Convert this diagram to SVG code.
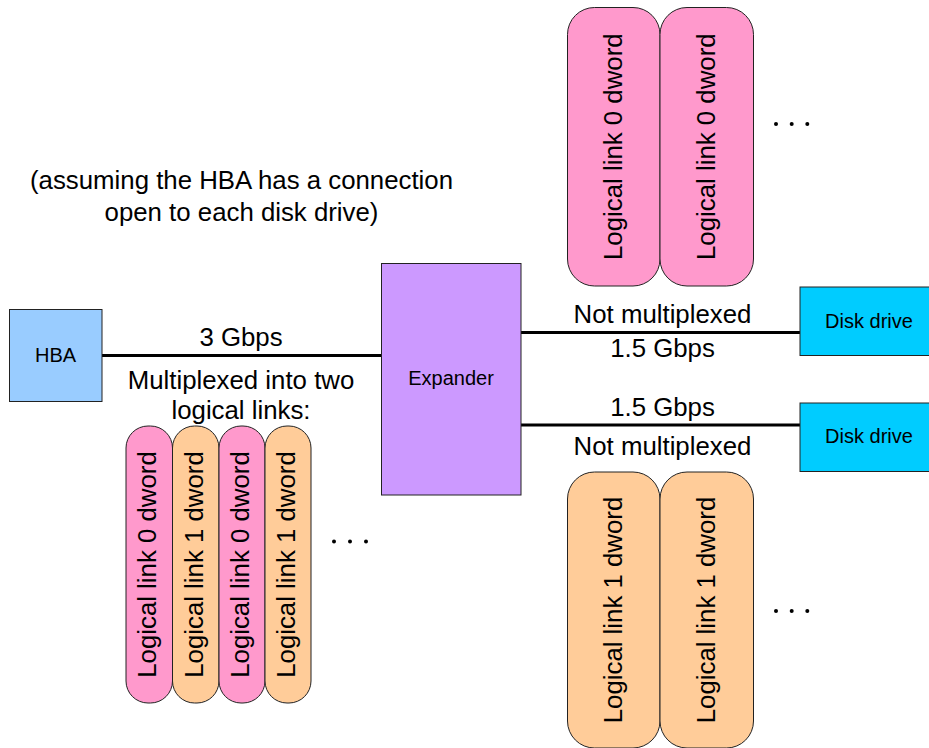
<svg xmlns="http://www.w3.org/2000/svg" width="929" height="748" viewBox="0 0 929 748">
<style>
text{font-family:"Liberation Sans",Arial,sans-serif;fill:#000}
.lg{font-size:25.8px;text-anchor:middle}
.sm{font-size:20px;text-anchor:middle}
.box{stroke:#222;stroke-width:1}
.pink{fill:#FF99CC;stroke:#222;stroke-width:1}
.peach{fill:#FFCC99;stroke:#222;stroke-width:1}
.wire{stroke:#000;stroke-width:3;fill:none}
.dot{fill:#000}
</style>
<rect width="929" height="748" fill="#fff"/>
<g id="note">
<text class="lg" x="241.5" y="189">(assuming the HBA has a connection</text>
<text class="lg" x="241.5" y="221">open to each disk drive)</text>
</g>
<g id="connectors">
<line class="wire" x1="102" y1="355.5" x2="381" y2="355.5"/>
<line class="wire" x1="521" y1="332.5" x2="800" y2="332.5"/>
<line class="wire" x1="521" y1="425" x2="800" y2="425"/>
<text class="lg" x="241" y="346">3 Gbps</text>
<text class="lg" x="241" y="389">Multiplexed into two</text>
<text class="lg" x="241" y="419">logical links:</text>
<text class="lg" x="662.5" y="323">Not multiplexed</text>
<text class="lg" x="662.5" y="357">1.5 Gbps</text>
<text class="lg" x="662.5" y="416">1.5 Gbps</text>
<text class="lg" x="662.5" y="455">Not multiplexed</text>
</g>
<g id="hba">
<rect class="box" x="9.5" y="309.5" width="92.5" height="92" fill="#99CCFF"/>
<text class="sm" x="55.5" y="362">HBA</text>
</g>
<g id="expander">
<rect class="box" x="381.5" y="263.5" width="139.5" height="231.5" fill="#CC99FF"/>
<text class="sm" x="451" y="384.5">Expander</text>
</g>
<g id="disk1">
<rect class="box" x="800" y="287" width="140" height="68.5" fill="#00CCFF"/>
<text class="sm" x="869" y="327.5">Disk drive</text>
</g>
<g id="disk2">
<rect class="box" x="800" y="403" width="140" height="68.5" fill="#00CCFF"/>
<text class="sm" x="869" y="443">Disk drive</text>
</g>
<g id="mux-stream">
<rect class="pink" x="126" y="426" width="46.5" height="277" rx="22" ry="22"/>
<text class="lg" x="149.2" y="571.5" transform="rotate(-90 149.2 564.5)">Logical link 0 dword</text>
<rect class="peach" x="172.5" y="426" width="46.5" height="277" rx="22" ry="22"/>
<text class="lg" x="195.7" y="571.5" transform="rotate(-90 195.7 564.5)">Logical link 1 dword</text>
<rect class="pink" x="219" y="426" width="46" height="277" rx="22" ry="22"/>
<text class="lg" x="242" y="571.5" transform="rotate(-90 242 564.5)">Logical link 0 dword</text>
<rect class="peach" x="265" y="426" width="46" height="277" rx="22" ry="22"/>
<text class="lg" x="288" y="571.5" transform="rotate(-90 288 564.5)">Logical link 1 dword</text>
<circle class="dot" cx="334" cy="541.5" r="2"/>
<circle class="dot" cx="350" cy="541.5" r="2"/>
<circle class="dot" cx="366" cy="541.5" r="2"/>
</g>
<g id="stream-top">
<rect class="pink" x="567.5" y="7.5" width="92.5" height="278.5" rx="27" ry="27"/>
<text class="lg" x="613.7" y="154.7" transform="rotate(-90 613.7 146.7)">Logical link 0 dword</text>
<rect class="pink" x="660" y="7.5" width="93.5" height="278.5" rx="27" ry="27"/>
<text class="lg" x="706.7" y="154.7" transform="rotate(-90 706.7 146.7)">Logical link 0 dword</text>
<circle class="dot" cx="776" cy="124" r="2"/>
<circle class="dot" cx="791.7" cy="124" r="2"/>
<circle class="dot" cx="807.3" cy="124" r="2"/>
</g>
<g id="stream-bottom">
<rect class="peach" x="567.5" y="472" width="92.5" height="276" rx="27" ry="27"/>
<text class="lg" x="613.7" y="618" transform="rotate(-90 613.7 610)">Logical link 1 dword</text>
<rect class="peach" x="660" y="472" width="93.5" height="276" rx="27" ry="27"/>
<text class="lg" x="706.7" y="618" transform="rotate(-90 706.7 610)">Logical link 1 dword</text>
<circle class="dot" cx="776" cy="611" r="2"/>
<circle class="dot" cx="791.7" cy="611" r="2"/>
<circle class="dot" cx="807.3" cy="611" r="2"/>
</g>
</svg>
